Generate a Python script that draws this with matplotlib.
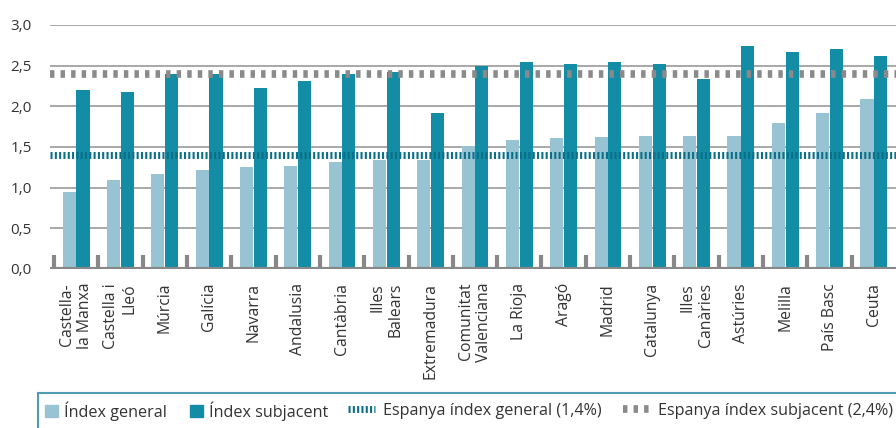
import matplotlib.pyplot as plt
from matplotlib.patches import Patch, Rectangle
from matplotlib.lines import Line2D
import numpy as np

plt.rcParams['font.family'] = ['Open Sans', 'DejaVu Sans']
plt.rcParams['lines.scale_dashes'] = False

regions = ["Castella-\nla Manxa", "Castella i\nLleó", "Múrcia", "Galícia", "Navarra",
           "Andalusia", "Cantàbria", "Illes\nBalears", "Extremadura", "Comunitat\nValenciana",
           "La Rioja", "Aragó", "Madrid", "Catalunya", "Illes\nCanàries", "Astúries",
           "Melilla", "País Basc", "Ceuta"]
index_general = [0.95, 1.10, 1.17, 1.22, 1.25, 1.27, 1.32, 1.34, 1.34, 1.51,
                 1.58, 1.61, 1.62, 1.63, 1.63, 1.64, 1.79, 1.92, 2.09]
index_subjacent = [2.20, 2.18, 2.40, 2.40, 2.23, 2.31, 2.40, 2.42, 1.92, 2.50,
                   2.54, 2.52, 2.54, 2.52, 2.33, 2.74, 2.67, 2.70, 2.62]
spain_general = 1.4
spain_subjacent = 2.4
yticks = [0.0, 0.5, 1.0, 1.5, 2.0, 2.5, 3.0]

light = '#97c3d3'
dark = '#138ca6'
teal_line = '#0b6f88'
grey_line = '#8a8a8a'
text_col = '#333333'

fig = plt.figure(figsize=(8.96, 4.28), dpi=100)
ax = fig.add_axes([50 / 896, (428 - 269) / 428, 1 - 50 / 896, 244 / 428])

x = np.arange(len(regions))
w = 0.295
ax.bar(x - 0.155, index_general, w, color=light, zorder=2)
ax.bar(x + 0.155, index_subjacent, w, color=dark, zorder=2)

for t in yticks[1:]:
    ax.axhline(t, color='#9a9a9a', lw=1.2, zorder=1)
ax.axhline(0, color='#888888', lw=3, zorder=3)
ax.vlines(x - 0.5, 0, 0.17, color='#888888', lw=3, zorder=3)

ax.axhline(spain_general, color=teal_line, lw=5, dashes=(1.5, 1.6), zorder=4)
ax.axhline(spain_subjacent, color=grey_line, lw=5.5, dashes=(3.2, 4.4), zorder=4)

ax.set_xlim(-0.59, len(regions) - 0.5)
ax.set_ylim(0, 3.0)
ax.set_yticks(yticks)
ax.set_yticklabels([f"{t:.1f}".replace('.', ',') for t in yticks], fontsize=11, color=text_col)
ax.set_xticks(x)
ax.set_xticklabels(regions, rotation=90, va='top', ha='center', multialignment='right',
                   fontsize=11.3, color=text_col, linespacing=1.2)
ax.tick_params(axis='both', length=0)
ax.tick_params(axis='y', pad=13)
ax.tick_params(axis='x', pad=10)
for s in ax.spines.values():
    s.set_visible(False)

fig.patches.append(Rectangle((38 / 896, -0.2), 1.0, 0.2 + 35 / 428, transform=fig.transFigure,
                             fill=False, edgecolor='#4f9db2', lw=1.5))

h1 = [Patch(color=light, label='Índex general'), Patch(color=dark, label='Índex subjacent')]
leg1 = fig.legend(handles=h1, loc='center left', bbox_to_anchor=(45 / 896, 0.04), ncol=2,
                  frameon=False, fontsize=11.6, handlelength=0.8, handleheight=0.8,
                  handletextpad=0.4, columnspacing=1.4, borderpad=0, borderaxespad=0,
                  labelcolor=text_col)
h2 = [Line2D([], [], color=teal_line, lw=5, dashes=(1.5, 1.6),
             label='Espanya índex general (1,4%)'),
      Line2D([], [], color=grey_line, lw=5.5, dashes=(3.2, 4.4),
             label='Espanya índex subjacent (2,4%)')]
leg2 = fig.legend(handles=h2, loc='center left', bbox_to_anchor=(348 / 896, 0.04), ncol=2,
                  frameon=False, fontsize=11.6, handlelength=1.7, handletextpad=0.5,
                  columnspacing=1.3, borderpad=0, borderaxespad=0, labelcolor=text_col)

fig.savefig('out.png', dpi=100)
